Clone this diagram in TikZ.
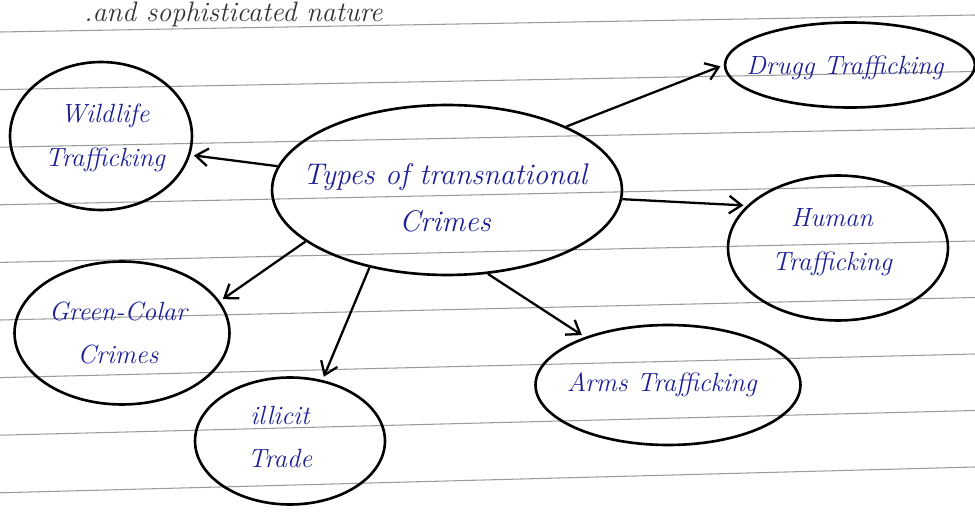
\documentclass[tikz,border=0pt]{standalone}
\usepackage{tikz}
\usetikzlibrary{shapes.geometric}
\usetikzlibrary{arrows.meta}
\definecolor{ink}{RGB}{28,32,150}
\definecolor{rule}{RGB}{155,155,155}

\begin{document}
\begin{tikzpicture}[x=0.02cm,y=-0.02cm,
    bubble/.style={ellipse,draw,line width=1.5pt,inner sep=0pt},
    txt/.style={font=\fontsize{15}{25}\selectfont\itshape,align=center,text=ink},
    link/.style={line width=1.3pt,shorten >=2pt,-{Straight Barb[length=7pt,width=10pt]}}]
    \useasboundingbox (0,0) rectangle (975,517);
    \clip (0,0) rectangle (975,517);

    % ruled paper
    \foreach \i in {0,...,8} {
        \draw[rule,line width=0.6pt] (0,32+57.6*\i) -- (975,15+56.5*\i);
    }

    \node[font=\fontsize{16}{18}\selectfont\itshape,text=black!80,anchor=base west] (head) at (78,22) {.and sophisticated nature};

    % centre
    \node[bubble,minimum width=7cm,minimum height=3.4cm] (types) at (447,190) {};
    \node[txt,font=\fontsize{17}{27}\selectfont\itshape] (types-t) at (445,198) {Types of transnational\\Crimes};

    % leaves
    \node[bubble,minimum width=5cm,minimum height=1.7cm] (drug) at (850,65) {};
    \node[txt] (drug-t) at (845,68) {Drugg Trafficking};

    \node[bubble,minimum width=3.64cm,minimum height=2.96cm] (wild) at (101,136) {};
    \node[txt] (wild-t) at (105,138) {Wildlife\\Trafficking};

    \node[bubble,minimum width=4.4cm,minimum height=2.9cm] (human) at (838,248) {};
    \node[txt] (human-t) at (832,242) {Human\\Trafficking};

    \node[bubble,minimum width=4.3cm,minimum height=2.86cm] (green) at (122,333) {};
    \node[txt] (green-t) at (118,333) {Green-Colar\\Crimes};

    \node[bubble,minimum width=5.3cm,minimum height=2.4cm] (arms) at (668,385) {};
    \node[txt] (arms-t) at (662,385) {Arms Trafficking};

    \node[bubble,minimum width=3.8cm,minimum height=2.54cm] (illicit) at (290,441) {};
    \node[txt] (illicit-t) at (280,437) {illicit\\Trade};

    \draw[link] (types.28) -- (drug.west);
    \draw[link] (types.172) -- (wild.-12);
    \draw[link] (types.-3) -- (human.155);
    \draw[link] (types.200) -- (green.18);
    \draw[link] (types.225) -- (illicit.62);
    \draw[link] (types.-64) -- (arms.150);
\end{tikzpicture}
\end{document}
